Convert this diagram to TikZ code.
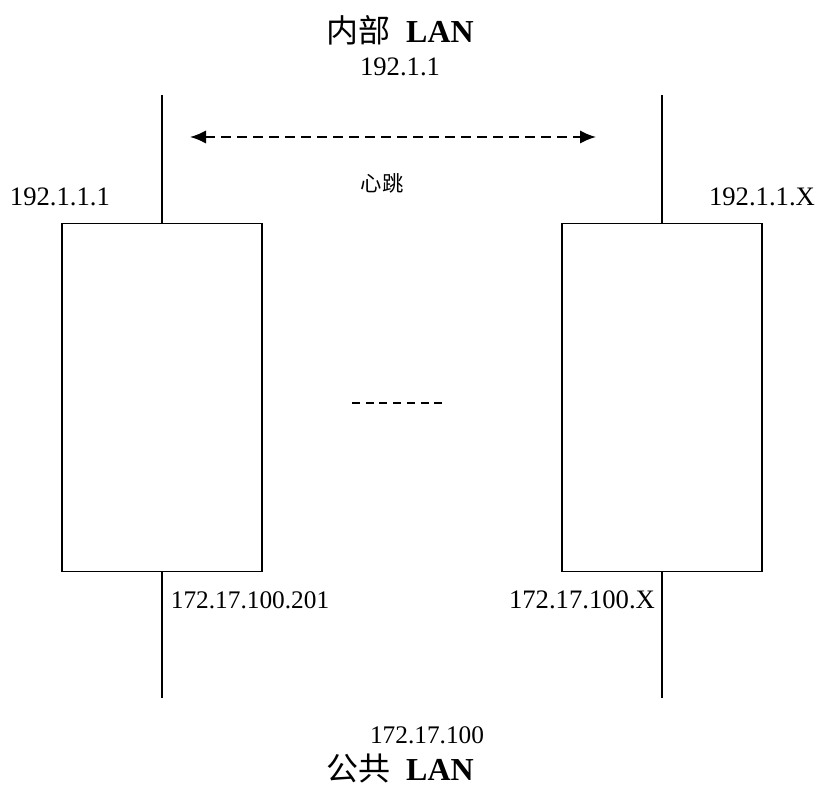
\documentclass[tikz,border=0pt]{standalone}
\usepackage{fontspec}
\setmainfont{Liberation Serif}
\newfontfamily\cjk{Noto Sans CJK SC}
\usetikzlibrary{arrows.meta}

\begin{document}
\begin{tikzpicture}[x=0.75pt, y=-0.75pt,
    host/.style={draw, line width=1.1pt, minimum width=150pt, minimum height=261pt, inner sep=0pt},
    wire/.style={line width=1.1pt},
    addr/.style={font=\fontsize{20}{22}\selectfont, inner sep=0pt},
    lan/.style={font=\fontsize{24}{26}\selectfont, inner sep=0pt}]
    \useasboundingbox (0,0) rectangle (822,788);

    % the two hosts
    \node[host] (hostA) at (162,397.5) {};
    \node[host] (hostB) at (662,397.5) {};

    % inner LAN side
    \coordinate (inA) at (162,95);
    \coordinate (inB) at (662,95);
    \draw[wire] (inA) -- (hostA.north);
    \draw[wire] (inB) -- (hostB.north);

    % public LAN side
    \coordinate (pubA) at (162,698);
    \coordinate (pubB) at (662,698);
    \draw[wire] (hostA.south) -- (pubA);
    \draw[wire] (hostB.south) -- (pubB);

    % heartbeat
    \coordinate (hbA) at (190,137);
    \coordinate (hbB) at (596,137);
    \draw[line width=1.4pt, dash pattern=on 7.5pt off 4.5pt, {Latex[length=12pt,width=10pt]}-{Latex[length=12pt,width=10pt]}] (hbA) -- (hbB);
    \node[font=\cjk\fontsize{16}{18}\selectfont, inner sep=0pt] (hb) at (382,183) {心跳};

    % more hosts
    \coordinate (moreA) at (352,403);
    \coordinate (moreB) at (443,403);
    \draw[line width=1.2pt, dash pattern=on 6pt off 4.3pt] (moreA) -- (moreB);

    % labels
    \node[lan] (inlan) at (400,30) {{\cjk 内部}\ \ \textbf{LAN}};
    \node[addr] (innet) at (400,67) {192.1.1};
    \node[addr] (ipA) at (60,197) {192.1.1.1};
    \node[addr] (ipB) at (762,197) {192.1.1.X};
    \node[addr, font=\fontsize{19}{21}\selectfont] (pipA) at (250,600) {172.17.100.201};
    \node[addr] (pipB) at (582,600) {172.17.100.X};
    \node[addr, font=\fontsize{19}{21}\selectfont] (pubnet) at (427,735) {172.17.100};
    \node[lan] (publan) at (400,768) {{\cjk 公共}\ \ \textbf{LAN}};
\end{tikzpicture}
\end{document}
